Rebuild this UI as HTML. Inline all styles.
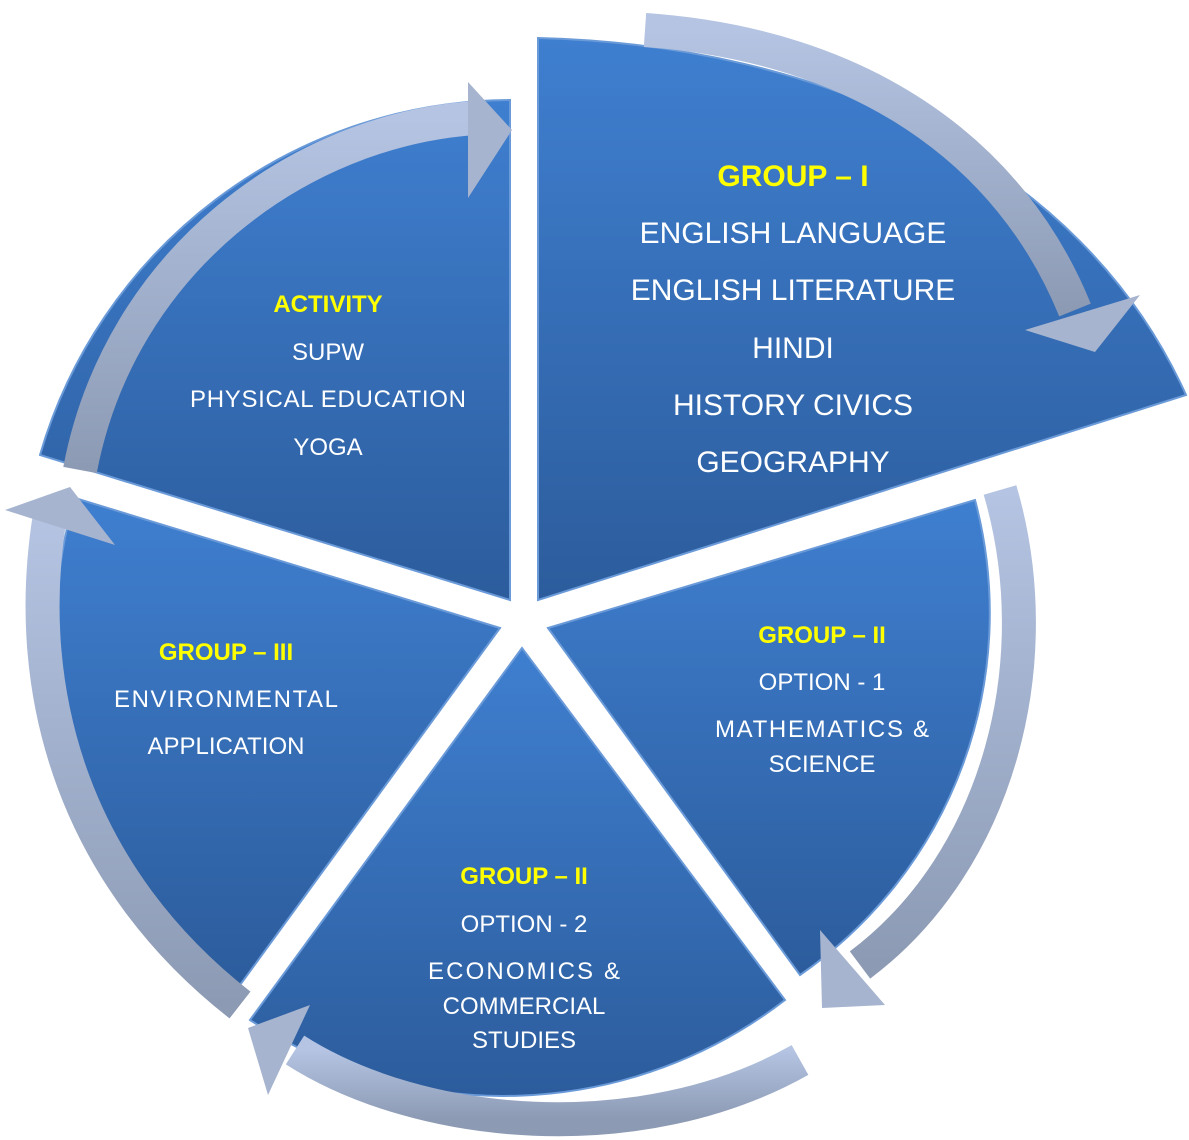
<!DOCTYPE html>
<html><head><meta charset="utf-8">
<style>
html,body{margin:0;padding:0;background:#fff;}
svg{display:block;}
text{font-family:"Liberation Sans","DejaVu Sans",sans-serif;text-anchor:middle;}
.y{fill:#ffff00;font-weight:bold;}
.w{fill:#ffffff;}
</style></head><body>
<svg width="1189" height="1140" viewBox="0 0 1189 1140" xmlns="http://www.w3.org/2000/svg">
<defs>
<linearGradient id="b" x1="0" y1="0" x2="0" y2="1">
<stop offset="0" stop-color="#3f7fd0"/><stop offset="1" stop-color="#2c5c9c"/>
</linearGradient>
<linearGradient id="a" x1="0" y1="0" x2="0" y2="1">
<stop offset="0" stop-color="#b4c4e2"/><stop offset="1" stop-color="#8c9ab4"/>
</linearGradient>
</defs>
<path d="M538,600 L538,38 C820,45 1080,160 1186,395 Z" fill="url(#b)" stroke="#6a9ad8" stroke-width="2"/>
<path d="M510,600 L510,100 A492 492 0 0 0 40,455 Z" fill="url(#b)" stroke="#6a9ad8" stroke-width="2"/>
<path d="M500,628 L75,498 A443 443 0 0 0 240,985 Z" fill="url(#b)" stroke="#6a9ad8" stroke-width="2"/>
<path d="M522,648 L250,1020 A461 461 0 0 0 785,1000 Z" fill="url(#b)" stroke="#6a9ad8" stroke-width="2"/>
<path d="M548,628 L975,500 A440 440 0 0 1 800,975 Z" fill="url(#b)" stroke="#6a9ad8" stroke-width="2"/>
<g fill="none" stroke="url(#a)" stroke-width="34">
<path d="M645,30 C860,45 1010,150 1075,310"/>
<path d="M80,470 C120,260 300,130 475,118"/>
<path d="M1000,490 C1050,660 1000,860 860,965"/>
<path d="M800,1060 C640,1150 420,1130 295,1050"/>
<path d="M240,1005 C80,880 20,700 50,515"/>
</g>
<g fill="#a6b4cf">
<polygon points="1025,330 1140,295 1095,352"/>
<polygon points="468,82 512,130 468,198"/>
<polygon points="820,930 885,1005 822,1008"/>
<polygon points="310,1005 248,1028 268,1095"/>
<polygon points="5,510 70,487 115,545"/>
</g>
<text class="y" x="793" y="186" font-size="30">GROUP – I</text>
<g class="w" font-size="30">
<text x="793" y="243">ENGLISH LANGUAGE</text>
<text x="793" y="300">ENGLISH LITERATURE</text>
<text x="793" y="358">HINDI</text>
<text x="793" y="415">HISTORY CIVICS</text>
<text x="793" y="472">GEOGRAPHY</text>
</g>
<text class="y" x="328" y="312" font-size="24">ACTIVITY</text>
<g class="w" font-size="24">
<text x="328" y="360">SUPW</text>
<text x="328" y="407" textLength="276">PHYSICAL EDUCATION</text>
<text x="328" y="455">YOGA</text>
</g>
<text class="y" x="226" y="660" font-size="24">GROUP – III</text>
<g class="w" font-size="24">
<text x="226" y="707" textLength="224">ENVIRONMENTAL</text>
<text x="226" y="754">APPLICATION</text>
</g>
<text class="y" x="822" y="643" font-size="24">GROUP – II</text>
<g class="w" font-size="24">
<text x="822" y="690">OPTION - 1</text>
<text x="822" y="737" textLength="214">MATHEMATICS &amp;</text>
<text x="822" y="772">SCIENCE</text>
</g>
<text class="y" x="524" y="884" font-size="24">GROUP – II</text>
<g class="w" font-size="24">
<text x="524" y="932">OPTION - 2</text>
<text x="524" y="979" textLength="192">ECONOMICS  &amp;</text>
<text x="524" y="1014">COMMERCIAL</text>
<text x="524" y="1048">STUDIES</text>
</g>
</svg>
</body></html>
